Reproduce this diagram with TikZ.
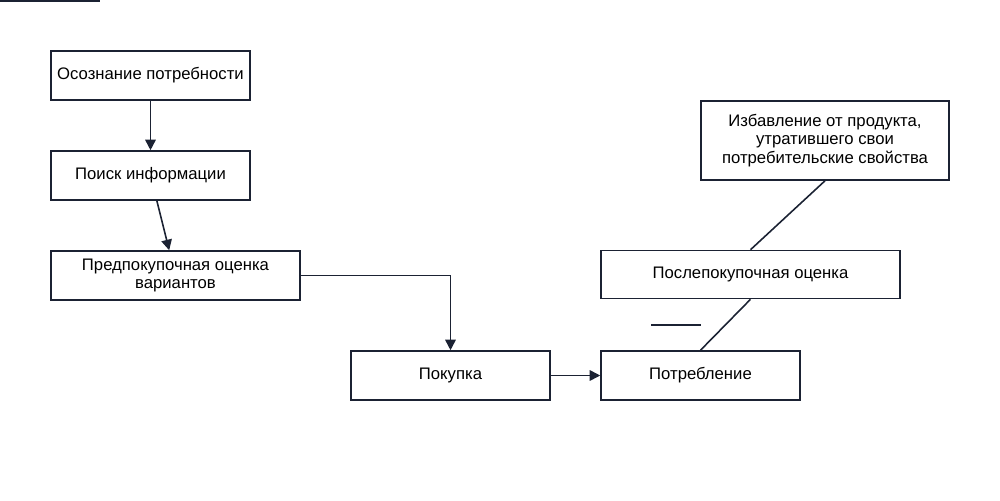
\documentclass[tikz,border=0pt]{standalone}
\usepackage{fontspec}
\setmainfont{Liberation Sans}
\usetikzlibrary{arrows.meta}
\definecolor{ln}{HTML}{1B2233}
\begin{document}
\begin{tikzpicture}[x=0.02cm,y=-0.02cm,
 box/.style={draw=ln,line width=0.9pt,fill=white,font=\fontsize{9.5}{10.5}\selectfont,align=center,text=black,inner sep=0pt},
 con/.style={draw=ln,line width=0.9pt},
 arr/.style={con,-{Triangle[length=6pt,width=6pt]}}]
\useasboundingbox (0,0) rectangle (1000,500);
\node[box,minimum width=199\pgflinewidth/0.9*0.02cm] at (0,0) {};
\node[box,minimum width=3.98cm,minimum height=0.98cm] (a) at (150.5,75.5) {Осознание потребности};
\node[box,minimum width=3.98cm,minimum height=0.98cm] (b) at (150.5,175.5) {Поиск информации};
\node[box,minimum width=4.98cm,minimum height=0.98cm] (c) at (175.5,275.5) {Предпокупочная оценка\\вариантов};
\node[box,minimum width=3.98cm,minimum height=0.98cm] (d) at (450.5,375.5) {Покупка};
\node[box,minimum width=3.98cm,minimum height=0.98cm] (e) at (700.5,375.5) {Потребление};
\node[box,minimum width=5.98cm,minimum height=0.96cm] (f) at (750.5,274.5) {Послепокупочная оценка};
\node[box,minimum width=4.96cm,minimum height=1.58cm] (g) at (825,140.5) {Избавление от продукта,\\утратившего свои\\потребительские свойства};
\coordinate (m) at (651,325);
\draw[arr] (a) -- (b);
\draw[arr] (b) -- (c);
\draw[arr] (c.east) -| (d.north);
\draw[arr] (d) -- (e);
\draw[con] (e.north) -- (f.south);
\draw[con] (m) -- (700.5,325);
\draw[con] (g.south) -- (f.north);
\end{tikzpicture}
\end{document}
